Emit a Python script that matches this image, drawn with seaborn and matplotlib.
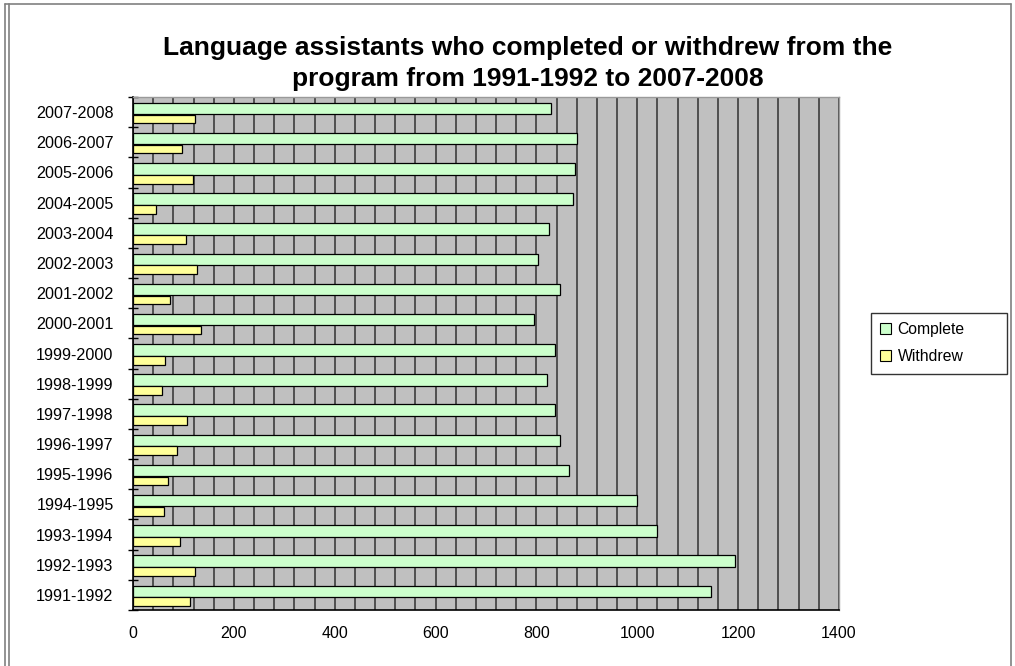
import matplotlib
matplotlib.use("Agg")
import matplotlib.pyplot as plt
import seaborn as sns
import pandas as pd
import numpy as np
from matplotlib.patches import Patch
from matplotlib.lines import Line2D

# Academic years, oldest first
years = ["1991-1992", "1992-1993", "1993-1994", "1994-1995", "1995-1996",
         "1996-1997", "1997-1998", "1998-1999", "1999-2000", "2000-2001",
         "2001-2002", "2002-2003", "2003-2004", "2004-2005", "2005-2006",
         "2006-2007", "2007-2008"]
complete = [1146, 1194, 1039, 999, 865, 847, 837, 821, 837, 796,
            847, 804, 825, 872, 876, 880, 829]
withdrew = [114, 122, 94, 62, 70, 87, 107, 58, 63, 134,
            74, 126, 106, 46, 118, 98, 122]
series = ["Complete", "Withdrew"]
colors = ["#CCFFCC", "#FFFF99"]
xticks = [0, 200, 400, 600, 800, 1000, 1200, 1400]
title_lines = ["Language assistants who completed or withdrew from the",
               "program from 1991-1992 to 2007-2008"]

sns.set_theme(style="white")
plt.rcParams["font.family"] = ["Liberation Sans", "DejaVu Sans"]
plt.rcParams.update({"text.color": "black", "axes.labelcolor": "black",
                     "xtick.color": "black", "ytick.color": "black"})

df = pd.DataFrame({
    "Year": years * 2,
    "Series": [series[0]] * len(years) + [series[1]] * len(years),
    "Count": complete + withdrew,
})
order = years[::-1]

W, H = 1015, 666
fig = plt.figure(figsize=(W / 100, H / 100), dpi=100)
fig.patch.set_facecolor("white")
ax = fig.add_axes([133 / W, 1 - 610 / H, (839 - 133) / W, (610 - 97) / H])
ax.set_facecolor("#C0C0C0")

sns.barplot(data=df, y="Year", x="Count", hue="Series", order=order,
            hue_order=series, palette=colors, saturation=1, orient="h",
            width=0.7, dodge=True, edgecolor="black", linewidth=0.9,
            legend=False, ax=ax, zorder=3)

# bar thickness within each category: Complete above, Withdrew below
for i, p in enumerate(ax.containers[0].patches):
    p.set_y(i - 0.31)
    p.set_height(0.38)
for i, p in enumerate(ax.containers[1].patches):
    p.set_y(i + 0.08)
    p.set_height(0.29)

ax.set_xlim(0, 1400)
ax.set_ylim(len(years) - 0.5, -0.5)
ax.set_xticks(xticks)
ax.set_xticklabels([str(v) for v in xticks])
ax.set_xticks(np.arange(0, 1401, 40), minor=True)
ax.set_yticks(np.arange(-0.5, len(years), 1.0), minor=True)
ax.set_axisbelow(True)
ax.grid(which="both", axis="x", color="#4F4F4F", linewidth=1.4, zorder=0)
ax.grid(False, axis="y", which="both")

ax.tick_params(axis="x", which="major", direction="out", length=4.5,
               width=1, color="black", labelsize=11.5, pad=7)
ax.tick_params(axis="x", which="minor", length=0)
ax.tick_params(axis="y", which="major", length=0, labelsize=11.6, pad=14)
ax.tick_params(axis="y", which="minor", direction="inout", length=7,
               width=1, color="black", left=True)
ax.set_xlabel("")
ax.set_ylabel("")

for s in ("top", "right"):
    ax.spines[s].set_color("#9A9A9A")
    ax.spines[s].set_linewidth(1)
for s in ("left", "bottom"):
    ax.spines[s].set_color("black")
    ax.spines[s].set_linewidth(1.2)

fig.text(528 / W, 1 - 48 / H, title_lines[0], ha="center", va="center",
         fontsize=19, fontweight="bold", color="black")
fig.text(528 / W, 1 - 79 / H, title_lines[1], ha="center", va="center",
         fontsize=19, fontweight="bold", color="black")

handles = [Patch(facecolor=c, edgecolor="black", linewidth=0.8) for c in colors]
leg = fig.legend(handles, series, loc="upper left", mode="expand",
                 bbox_to_anchor=(871 / W, 1 - 374 / H, 136 / W, 61 / H),
                 borderaxespad=0, fontsize=11.3, frameon=True,
                 fancybox=False, handlelength=0.7, handleheight=0.7,
                 handletextpad=0.4, labelspacing=0.75, borderpad=0.6)
leg.get_frame().set_edgecolor("black")
leg.get_frame().set_linewidth(1)

# surrounding chart frame
for x in (5 / W, 9 / W):
    fig.add_artist(Line2D([x, x], [0, 1 - 4 / H], color="#808080", lw=1.2))
fig.add_artist(Line2D([5 / W, 1011 / W], [1 - 4 / H, 1 - 4 / H],
                      color="#808080", lw=1.2))
fig.add_artist(Line2D([1011 / W, 1011 / W], [0, 1 - 4 / H],
                      color="#808080", lw=1.2))

fig.savefig("out.png", dpi=100)
